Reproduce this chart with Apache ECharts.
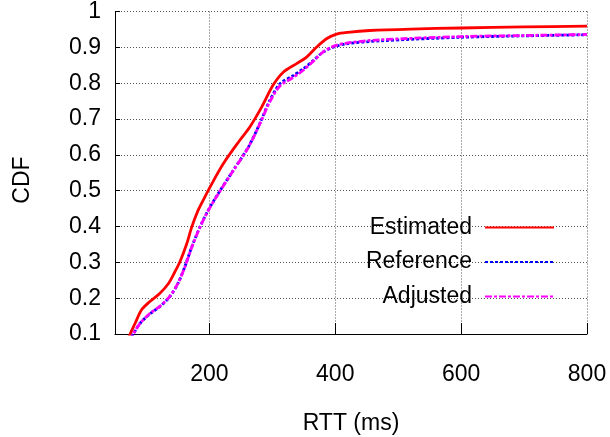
<!DOCTYPE html>
<html>
<head>
<meta charset="utf-8">
<script src="https://cdn.jsdelivr.net/npm/echarts@6/dist/echarts.min.js"></script>
<style>
  html, body { margin: 0; padding: 0; background: #fff; }
  #chart { width: 610px; height: 437px; }
</style>
</head>
<body>
<div id="chart"></div>
<script>
// RTT samples (ms) and cumulative fraction for each curve
const estimated = [
  [68, 0.08], [74, 0.1], [82, 0.13], [92, 0.167], [105, 0.19], [121, 0.213],
  [135, 0.241], [145, 0.273], [153, 0.301], [164, 0.352], [172, 0.399],
  [182, 0.445], [190, 0.473], [201, 0.51], [222, 0.575], [248, 0.64],
  [264, 0.677], [283, 0.733], [301, 0.794], [317, 0.83], [338, 0.854],
  [354, 0.872], [370, 0.9], [386, 0.924], [402, 0.937], [420, 0.942],
  [455, 0.947], [520, 0.951], [600, 0.954], [700, 0.957], [800, 0.959]
];
const reference = [
  [73, 0.08], [79, 0.1], [90, 0.13], [106, 0.157], [121, 0.176], [137, 0.204],
  [150, 0.241], [161, 0.288], [172, 0.343], [185, 0.399], [198, 0.445],
  [214, 0.492], [238, 0.557], [262, 0.622], [280, 0.687], [296, 0.752],
  [312, 0.798], [333, 0.821], [349, 0.84], [365, 0.863], [380, 0.886],
  [396, 0.9], [418, 0.91], [471, 0.918], [600, 0.928], [700, 0.932], [800, 0.935]
];
const adjusted = [
  [73, 0.08], [79, 0.1], [90, 0.13], [106, 0.158], [121, 0.177], [137, 0.205],
  [150, 0.241], [161, 0.287], [172, 0.342], [185, 0.398], [198, 0.444],
  [214, 0.491], [238, 0.556], [262, 0.621], [280, 0.686], [296, 0.748],
  [312, 0.792], [333, 0.816], [349, 0.836], [365, 0.861], [380, 0.886],
  [396, 0.902], [418, 0.912], [471, 0.921], [600, 0.93], [700, 0.933], [800, 0.936]
];
const xTicks = [200, 400, 600, 800];
const seriesNames = ['Estimated', 'Reference', 'Adjusted'];
const xTitle = 'RTT (ms)';
const yTitle = 'CDF';

const FONT = 'Liberation Sans, Arial, Helvetica, sans-serif';
const chart = echarts.init(document.getElementById('chart'), null, { renderer: 'canvas' });

const gridLine = { show: true, lineStyle: { color: '#555', width: 1, type: [1, 2] } };

function curve(name, data, color, dash) {
  return {
    name: name,
    type: 'line',
    data: data,
    showSymbol: false,
    symbol: 'none',
    smooth: 0.3,
    clip: true,
    lineStyle: { color: color, width: 2.8, type: dash },
    itemStyle: { color: color, opacity: 0 },
    emphasis: { disabled: true }
  };
}

chart.setOption({
  animation: false,
  backgroundColor: '#fff',
  grid: { left: 115, right: 23, top: 11, bottom: 103, containLabel: false },
  xAxis: {
    type: 'value',
    min: 50,
    max: 800,
    axisLine: { show: true, onZero: false, lineStyle: { color: '#000', width: 1 } },
    axisTick: { show: true, inside: true, length: 11, customValues: xTicks, lineStyle: { color: '#000' } },
    axisLabel: { customValues: xTicks, margin: 29, fontSize: 23, fontFamily: FONT, color: '#000' },
    splitLine: gridLine
  },
  yAxis: {
    type: 'value',
    min: 0.1,
    max: 1,
    interval: 0.1,
    axisLine: { show: true, onZero: false, lineStyle: { color: '#000', width: 1 } },
    axisTick: { show: true, inside: true, length: 5, lineStyle: { color: '#000' } },
    axisLabel: {
      margin: 14, fontSize: 23, fontFamily: FONT, color: '#000',
      formatter: v => String(Math.round(v * 10) / 10)
    },
    splitLine: gridLine
  },
  legend: {
    data: seriesNames,
    orient: 'vertical',
    align: 'right',
    right: 50,
    top: 211,
    itemWidth: 69,
    itemHeight: 14,
    itemGap: 11.5,
    itemStyle: { opacity: 0 },
    textStyle: { fontSize: 23, fontFamily: FONT, color: '#000', padding: [0, 8, 0, 0] }
  },
  graphic: [
    {
      type: 'text', x: 351, y: 424,
      style: { text: xTitle, font: '23px ' + FONT, fill: '#000', align: 'center', verticalAlign: 'middle', textAlign: 'center', textVerticalAlign: 'middle' }
    },
    {
      type: 'text', x: 22.5, y: 180, rotation: Math.PI / 2,
      style: { text: yTitle, font: '23px ' + FONT, fill: '#000', align: 'center', verticalAlign: 'middle', textAlign: 'center', textVerticalAlign: 'middle' }
    }
  ],
  series: [
    curve(seriesNames[0], estimated, '#ff0000', 'solid'),
    curve(seriesNames[1], reference, '#0000ff', [3, 2]),
    curve(seriesNames[2], adjusted, '#ff00ff', [7, 2, 3, 2])
  ]
});
</script>
</body>
</html>
